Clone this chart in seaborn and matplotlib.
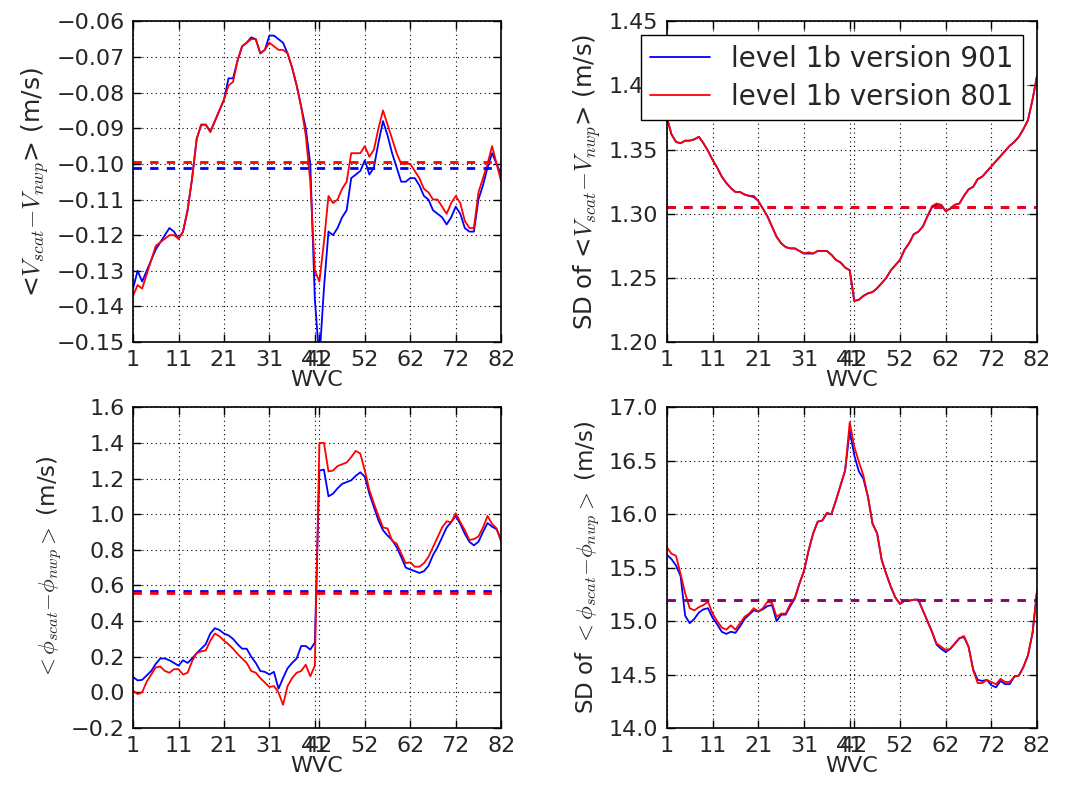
import numpy as np
import pandas as pd
import matplotlib
matplotlib.use("Agg")
import matplotlib.pyplot as plt
import seaborn as sns

wvc = list(range(1, 83))
xticks = [1, 11, 21, 31, 41, 42, 52, 62, 72, 82]
labels = ["level 1b version 901", "level 1b version 801"]

# Panel 1: <V_scat - V_nwp>
v_bias_901 = [-0.135, -0.130, -0.133, -0.130, -0.127, -0.124, -0.122, -0.120, -0.118, -0.119,
              -0.121, -0.119, -0.113, -0.104, -0.093, -0.089, -0.089, -0.091, -0.088, -0.085,
              -0.082, -0.076, -0.076, -0.071, -0.067, -0.066, -0.0645, -0.065, -0.069, -0.068,
              -0.064, -0.064, -0.065, -0.066, -0.069, -0.073, -0.078, -0.084, -0.090, -0.100,
              -0.138, -0.155, -0.135, -0.119, -0.120, -0.118, -0.115, -0.113, -0.104, -0.103,
              -0.102, -0.099, -0.103, -0.101, -0.094, -0.088, -0.092, -0.097, -0.101, -0.105,
              -0.105, -0.104, -0.104, -0.106, -0.109, -0.110, -0.113, -0.114, -0.115, -0.117,
              -0.115, -0.112, -0.114, -0.118, -0.119, -0.119, -0.110, -0.106, -0.101, -0.097,
              -0.100, -0.103]
v_bias_801 = [-0.137, -0.134, -0.135, -0.131, -0.127, -0.123, -0.122, -0.121, -0.120, -0.120,
              -0.121, -0.119, -0.113, -0.104, -0.093, -0.089, -0.089, -0.091, -0.088, -0.085,
              -0.082, -0.078, -0.077, -0.071, -0.067, -0.066, -0.065, -0.065, -0.069, -0.068,
              -0.066, -0.067, -0.068, -0.068, -0.069, -0.073, -0.078, -0.084, -0.092, -0.105,
              -0.130, -0.133, -0.122, -0.109, -0.111, -0.110, -0.107, -0.105, -0.097, -0.097,
              -0.097, -0.095, -0.098, -0.096, -0.090, -0.085, -0.089, -0.093, -0.097, -0.100,
              -0.100, -0.100, -0.102, -0.104, -0.107, -0.108, -0.110, -0.110, -0.112, -0.114,
              -0.111, -0.109, -0.111, -0.116, -0.118, -0.118, -0.108, -0.104, -0.100, -0.095,
              -0.100, -0.105]
v_bias_mean = [-0.1012, -0.0996]

# Panel 2: SD of <V_scat - V_nwp>
v_sd_801 = [1.375, 1.362, 1.356, 1.355, 1.357, 1.357, 1.358, 1.360, 1.355, 1.349,
            1.342, 1.336, 1.329, 1.324, 1.320, 1.317, 1.317, 1.315, 1.314, 1.314,
            1.310, 1.304, 1.298, 1.290, 1.282, 1.277, 1.274, 1.273, 1.273, 1.271,
            1.269, 1.270, 1.269, 1.271, 1.271, 1.271, 1.268, 1.264, 1.262, 1.258,
            1.256, 1.232, 1.233, 1.236, 1.238, 1.239, 1.242, 1.246, 1.250, 1.256,
            1.260, 1.264, 1.272, 1.277, 1.284, 1.286, 1.290, 1.298, 1.306, 1.308,
            1.307, 1.302, 1.304, 1.307, 1.308, 1.314, 1.319, 1.321, 1.327, 1.329,
            1.333, 1.337, 1.341, 1.345, 1.349, 1.353, 1.356, 1.360, 1.366, 1.373,
            1.389, 1.408]
v_sd_901 = [1.375, 1.362, 1.356, 1.355, 1.357, 1.357, 1.358, 1.360, 1.355, 1.349,
            1.342, 1.336, 1.329, 1.324, 1.320, 1.317, 1.317, 1.315, 1.314, 1.313,
            1.310, 1.304, 1.298, 1.290, 1.282, 1.277, 1.274, 1.273, 1.273, 1.271,
            1.269, 1.269, 1.269, 1.271, 1.271, 1.271, 1.268, 1.264, 1.262, 1.258,
            1.256, 1.232, 1.233, 1.236, 1.238, 1.239, 1.242, 1.246, 1.250, 1.256,
            1.260, 1.264, 1.272, 1.277, 1.284, 1.286, 1.290, 1.298, 1.305, 1.307,
            1.307, 1.302, 1.304, 1.307, 1.308, 1.314, 1.319, 1.321, 1.327, 1.329,
            1.333, 1.337, 1.341, 1.345, 1.349, 1.353, 1.356, 1.360, 1.366, 1.373,
            1.389, 1.408]
v_sd_mean = [1.3052, 1.3055]

# Panel 3: <phi_scat - phi_nwp>
phi_bias_901 = [0.086, 0.067, 0.070, 0.095, 0.120, 0.160, 0.190, 0.190, 0.180, 0.165,
                0.150, 0.180, 0.165, 0.190, 0.220, 0.245, 0.270, 0.330, 0.360, 0.350,
                0.330, 0.320, 0.300, 0.270, 0.245, 0.245, 0.200, 0.165, 0.120, 0.115,
                0.100, 0.115, 0.020, 0.080, 0.135, 0.165, 0.190, 0.260, 0.260, 0.240,
                0.280, 1.245, 1.250, 1.100, 1.115, 1.145, 1.170, 1.180, 1.190, 1.215,
                1.235, 1.210, 1.115, 1.040, 0.965, 0.910, 0.880, 0.855, 0.815, 0.760,
                0.700, 0.690, 0.680, 0.670, 0.680, 0.710, 0.770, 0.815, 0.870, 0.925,
                0.955, 0.990, 0.945, 0.890, 0.845, 0.825, 0.845, 0.900, 0.950, 0.930,
                0.915, 0.855]
phi_bias_801 = [0.010, -0.010, 0.000, 0.060, 0.100, 0.140, 0.145, 0.120, 0.110, 0.130,
                0.130, 0.100, 0.110, 0.175, 0.220, 0.230, 0.235, 0.290, 0.330, 0.315,
                0.290, 0.270, 0.245, 0.215, 0.190, 0.165, 0.120, 0.110, 0.080, 0.055,
                0.030, 0.035, 0.000, -0.070, 0.035, 0.080, 0.110, 0.120, 0.155, 0.090,
                0.150, 1.400, 1.400, 1.240, 1.245, 1.270, 1.280, 1.290, 1.320, 1.355,
                1.340, 1.245, 1.135, 1.060, 0.990, 0.925, 0.920, 0.850, 0.835, 0.780,
                0.725, 0.730, 0.705, 0.705, 0.725, 0.760, 0.815, 0.870, 0.925, 0.960,
                0.955, 1.005, 0.955, 0.910, 0.855, 0.860, 0.875, 0.925, 0.990, 0.945,
                0.920, 0.845]
phi_bias_mean = [0.566, 0.556]

# Panel 4: SD of <phi_scat - phi_nwp>
phi_sd_801 = [15.69, 15.63, 15.61, 15.44, 15.26, 15.12, 15.10, 15.13, 15.15, 15.18,
              15.07, 15.00, 14.94, 14.92, 14.96, 14.92, 14.98, 15.04, 15.07, 15.12,
              15.09, 15.12, 15.18, 15.17, 15.04, 15.07, 15.07, 15.16, 15.22, 15.35,
              15.47, 15.66, 15.82, 15.93, 15.94, 16.01, 16.00, 16.13, 16.27, 16.41,
              16.86, 16.63, 16.49, 16.36, 16.16, 15.91, 15.82, 15.57, 15.44, 15.32,
              15.22, 15.16, 15.19, 15.19, 15.20, 15.20, 15.10, 15.00, 14.90, 14.79,
              14.76, 14.73, 14.74, 14.79, 14.84, 14.86, 14.76, 14.54, 14.42, 14.42,
              14.45, 14.43, 14.41, 14.46, 14.43, 14.43, 14.48, 14.49, 14.57, 14.68,
              14.89, 15.29]
phi_sd_901 = [15.62, 15.58, 15.52, 15.42, 15.05, 14.98, 15.02, 15.08, 15.11, 15.12,
              15.03, 14.97, 14.90, 14.88, 14.90, 14.89, 14.95, 15.02, 15.06, 15.10,
              15.09, 15.11, 15.14, 15.15, 15.00, 15.06, 15.06, 15.14, 15.21, 15.35,
              15.47, 15.66, 15.82, 15.93, 15.94, 16.01, 16.00, 16.13, 16.27, 16.41,
              16.78, 16.55, 16.40, 16.33, 16.16, 15.91, 15.82, 15.57, 15.44, 15.32,
              15.22, 15.16, 15.19, 15.19, 15.20, 15.20, 15.10, 15.00, 14.90, 14.78,
              14.74, 14.71, 14.74, 14.79, 14.84, 14.85, 14.76, 14.55, 14.45, 14.44,
              14.45, 14.40, 14.38, 14.44, 14.41, 14.41, 14.48, 14.49, 14.57, 14.68,
              14.89, 15.29]
phi_sd_mean = [15.20, 15.20]

panels = [
    (v_bias_901, v_bias_801, v_bias_mean, (-0.15, -0.06), np.arange(-0.15, -0.0599, 0.01), "{:.2f}",
     r"<$V_{scat}{-}V_{nwp}$> (m/s)", 18),
    (v_sd_901, v_sd_801, v_sd_mean, (1.20, 1.45), np.arange(1.20, 1.4501, 0.05), "{:.2f}",
     r"SD of <$V_{scat}{-}V_{nwp}$> (m/s)", 17.5),
    (phi_bias_901, phi_bias_801, phi_bias_mean, (-0.2, 1.6), np.arange(-0.2, 1.601, 0.2), "{:.1f}",
     r"$<\phi_{scat}{-}\phi_{nwp}>$ (m/s)", 16.5),
    (phi_sd_901, phi_sd_801, phi_sd_mean, (14.0, 17.0), np.arange(14.0, 17.01, 0.5), "{:.1f}",
     r"SD of $<\phi_{scat}{-}\phi_{nwp}>$ (m/s)", 16.5),
]

sns.set_style("white")
plt.rcParams.update({
    "font.family": ["DejaVu Sans"],
    "mathtext.fontset": "cm",
    "axes.edgecolor": "black",
    "axes.linewidth": 1.2,
})

fig = plt.figure(figsize=(10.67, 7.9), dpi=100)
positions = [
    [0.1247, 0.567, 0.345, 0.406],
    [0.625, 0.567, 0.347, 0.406],
    [0.1247, 0.0785, 0.345, 0.406],
    [0.625, 0.0785, 0.347, 0.406],
]

colors = ["#0000ff", "#ff0000"]

for i, (s901, s801, means, ylim, yt, fmt, ylabel, ylfs) in enumerate(panels):
    ax = fig.add_axes(positions[i])
    df = pd.DataFrame({
        "WVC": wvc * 2,
        "value": s901 + s801,
        "version": [labels[0]] * len(wvc) + [labels[1]] * len(wvc),
    })
    sns.lineplot(data=df, x="WVC", y="value", hue="version", palette=colors,
                 hue_order=labels, ax=ax, linewidth=1.3, legend=(i == 1))
    alpha_red = 0.55 if i == 3 else 1.0
    ax.axhline(means[0], color=colors[0], linestyle=(0, (3, 3)), linewidth=2)
    ax.axhline(means[1], color=colors[1], linestyle=(0, (3, 3)), linewidth=2, alpha=alpha_red)
    ax.set_xlim(1, 82)
    ax.set_ylim(*ylim)
    ax.set_xticks(xticks)
    ax.set_xticklabels([str(t) for t in xticks])
    ax.set_yticks(yt)
    ax.set_yticklabels([fmt.format(v).replace("-", "\u2212") for v in yt])
    ax.tick_params(axis="both", which="major", direction="in", length=6, width=1,
                   bottom=True, top=True, left=True, right=True,
                   labelsize=16, pad=6, color="black")
    ax.grid(True, color="black", linestyle=(0, (1, 3)), linewidth=0.8)
    ax.set_xlabel("WVC", fontsize=16, labelpad=0)
    ax.set_ylabel(ylabel, fontsize=ylfs, labelpad=4)
    for sp in ax.spines.values():
        sp.set_visible(True)
        sp.set_color("black")
    if i == 1:
        leg = ax.legend(loc="upper right", fontsize=20, frameon=True, fancybox=False,
                        handlelength=2.15, handletextpad=0.75, borderaxespad=0.5,
                        borderpad=0.35, labelspacing=0.35,
                        edgecolor="black", framealpha=1.0)
        leg.get_frame().set_linewidth(1.0)
        for ln in leg.get_lines():
            ln.set_linewidth(1.3)

fig.savefig("out.png", dpi=100)
